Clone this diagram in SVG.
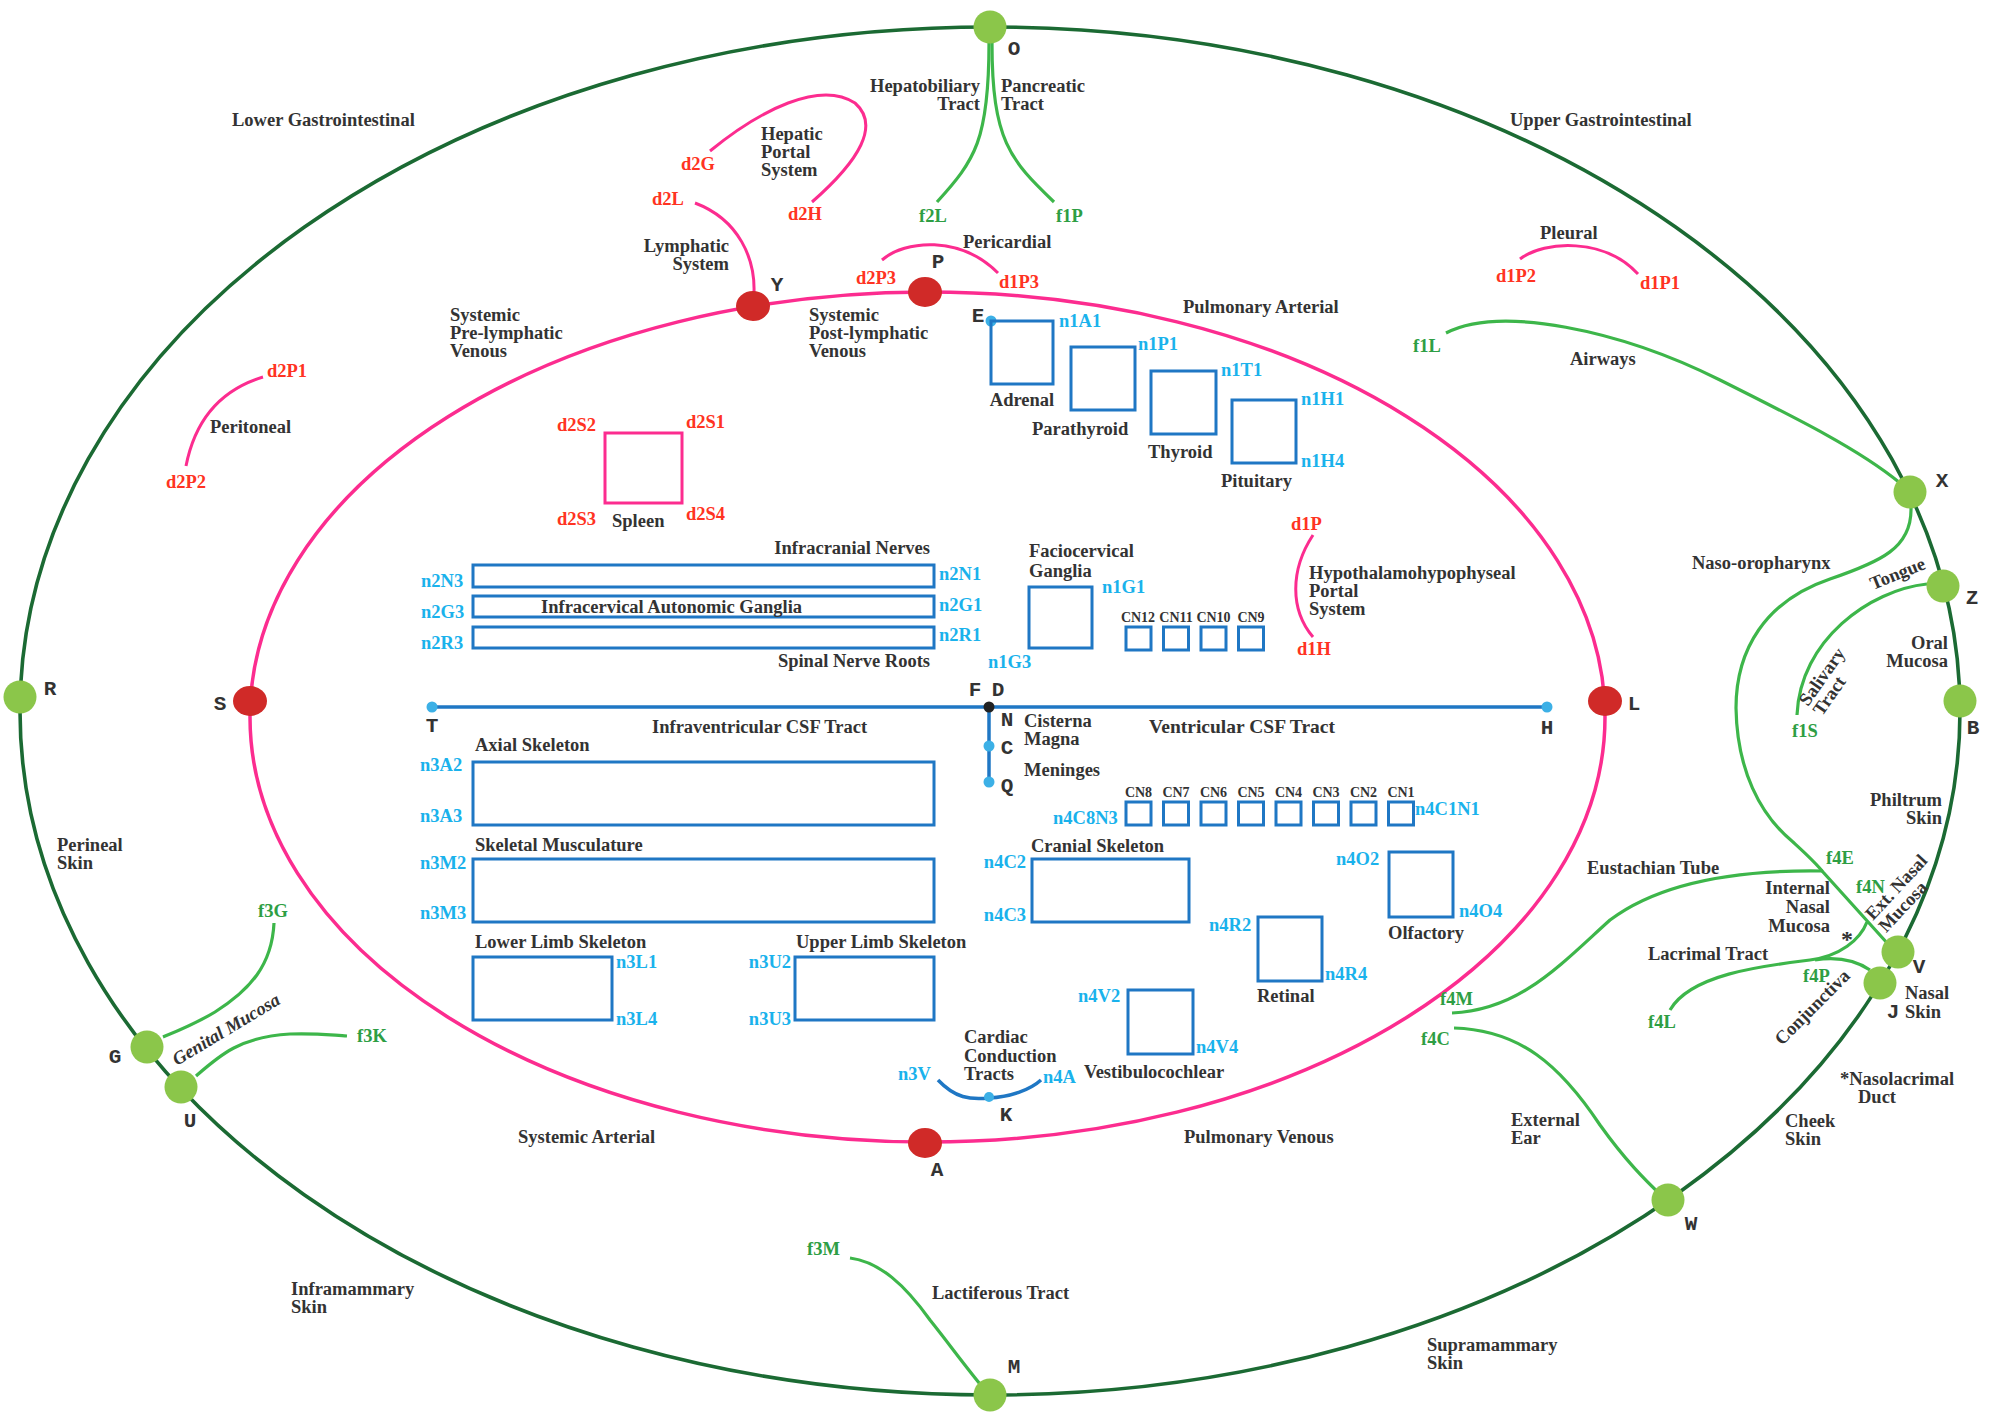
<svg xmlns="http://www.w3.org/2000/svg" width="2000" height="1414" viewBox="0 0 2000 1414">
<style>
.t{font-family:"Liberation Serif","Times New Roman",serif;font-weight:bold;font-size:18.5px;fill:#333}
.e{text-anchor:end}
.m{text-anchor:middle}
.k{font-family:"Liberation Mono","Courier New",monospace;font-weight:bold;font-size:21px;fill:#333;text-anchor:middle}
.r{fill:#ff3322}
.g{fill:#2e9e44}
.c{fill:#1ab2ec}
.cn{font-size:14px;text-anchor:middle}
.box{fill:none;stroke:#1f77c4;stroke-width:3}
.pk{fill:none;stroke:#fc2c8f;stroke-width:3.5}
.pt{fill:none;stroke:#fc2c8f;stroke-width:3}
.gl{fill:none;stroke:#3db64a;stroke-width:3.2}
.og{fill:none;stroke:#1b6a33;stroke-width:3.6}
.bl{fill:none;stroke:#1f77c4;stroke-width:3.5}
.gn{fill:#8bc64a}
.rn{fill:#d02a28}
.bd{fill:#3cb0e6}
</style>
<rect width="2000" height="1414" fill="#fff"/>

<g id="connectors">
<ellipse class="og" cx="990" cy="711" rx="970" ry="684"/>
<ellipse class="pk" cx="927.5" cy="717" rx="677.5" ry="425"/>
<path class="gl" d="M989 43 C989 140 975 160 937 202"/>
<path class="gl" d="M992 43 C992 140 1010 160 1054 202"/>
<path class="pt" d="M710 151 C760 110 820 80 855 103 C880 125 860 160 812 202"/>
<path class="pt" d="M695 203 C740 220 755 260 754 292"/>
<path class="pt" d="M882 260 C905 240 960 235 998 273"/>
<path class="pt" d="M263 377 C220 390 195 420 186 466"/>
<path class="pt" d="M1520 259 C1545 240 1605 238 1638 274"/>
<path class="pt" d="M1313 535 C1290 570 1290 610 1313 637"/>
<path class="bl" d="M432 707 L1547 707"/>
<path class="bl" d="M989 707 L989 782"/>
<path class="bl" d="M938 1080 C955 1098 970 1100 989 1098 C1010 1097 1030 1090 1041 1080"/>
<path class="gl" d="M1446 333 C1500 305 1620 330 1720 380 C1800 420 1860 450 1900 483"/>
<path class="gl" d="M1911 508 C1912 548 1880 562 1830 579 C1765 601 1736 650 1736 708 C1737 770 1760 815 1793 842 C1805 853 1815 862 1823 872 L1888 944"/>
<path class="gl" d="M1927 584 C1870 590 1800 640 1797 715"/>
<path class="gl" d="M1452 1013 C1520 1010 1560 965 1610 920 C1670 875 1760 870 1823 871"/>
<path class="gl" d="M1670 1010 C1690 975 1760 966 1810 960 C1840 956 1860 940 1867 922"/>
<path class="gl" d="M1815 960 C1840 956 1858 962 1870 970"/>
<path class="gl" d="M1454 1028 C1520 1030 1560 1065 1600 1125 C1625 1160 1645 1180 1664 1198"/>
<path class="gl" d="M274 923 C272 965 250 990 215 1012 C195 1024 180 1030 163 1037"/>
<path class="gl" d="M196 1076 C220 1055 240 1037 290 1034 C315 1033 330 1035 347 1036"/>
<path class="gl" d="M850 1258 C880 1262 905 1285 930 1320 C950 1345 968 1370 985 1390"/>
</g>

<g id="node-O"><circle class="gn" cx="990" cy="27" r="16.5"/><text class="k" x="1014" y="55">O</text></g>
<g id="node-X"><circle class="gn" cx="1910" cy="492" r="16.5"/><text class="k" x="1942" y="487">X</text></g>
<g id="node-Z"><circle class="gn" cx="1943" cy="586" r="16.5"/><text class="k" x="1972" y="604">Z</text></g>
<g id="node-B"><circle class="gn" cx="1960" cy="701" r="16.5"/><text class="k" x="1973" y="734">B</text></g>
<g id="node-V"><circle class="gn" cx="1898" cy="952" r="16.5"/><text class="k" x="1919" y="973">V</text></g>
<g id="node-J"><circle class="gn" cx="1880" cy="983" r="16.5"/><text class="k" x="1893" y="1018">J</text></g>
<g id="node-W"><circle class="gn" cx="1668" cy="1200" r="16.5"/><text class="k" x="1691" y="1230">W</text></g>
<g id="node-M"><circle class="gn" cx="990" cy="1395" r="16.5"/><text class="k" x="1014" y="1373">M</text></g>
<g id="node-U"><circle class="gn" cx="181" cy="1087" r="16.5"/><text class="k" x="190" y="1127">U</text></g>
<g id="node-G"><circle class="gn" cx="147" cy="1047" r="16.5"/><text class="k" x="115" y="1063">G</text></g>
<g id="node-R"><circle class="gn" cx="20" cy="697" r="16.5"/><text class="k" x="50" y="695">R</text></g>

<g id="node-P"><ellipse class="rn" cx="925" cy="292" rx="17" ry="15"/><text class="k" x="938" y="268">P</text></g>
<g id="node-Y"><ellipse class="rn" cx="753" cy="306" rx="17" ry="15"/><text class="k" x="777" y="291">Y</text></g>
<g id="node-S"><ellipse class="rn" cx="250" cy="701" rx="17" ry="15"/><text class="k" x="220" y="710">S</text></g>
<g id="node-L"><ellipse class="rn" cx="1605" cy="701" rx="17" ry="15"/><text class="k" x="1634" y="710">L</text></g>
<g id="node-A"><ellipse class="rn" cx="925" cy="1143" rx="17" ry="15"/><text class="k" x="937" y="1176">A</text></g>

<g id="node-T"><circle class="bd" cx="432" cy="707" r="5.5"/><text class="k" x="432" y="732">T</text></g>
<g id="node-H"><circle class="bd" cx="1547" cy="707" r="5.5"/><text class="k" x="1547" y="734">H</text></g>
<g id="node-FD"><circle fill="#222" cx="989" cy="707" r="5.5"/><text class="k" x="975" y="696">F</text><text class="k" x="998" y="696">D</text><text class="k" x="1007" y="726">N</text></g>
<g id="node-C"><circle class="bd" cx="989" cy="746" r="5.5"/><text class="k" x="1007" y="754">C</text></g>
<g id="node-Q"><circle class="bd" cx="989" cy="782" r="5.5"/><text class="k" x="1007" y="792">Q</text></g>
<g id="node-K"><circle class="bd" cx="989" cy="1097" r="5"/><text class="k" x="1006" y="1121">K</text></g>
<g id="node-E"><circle class="bd" cx="991" cy="321" r="5.5"/><text class="k" x="978" y="322">E</text></g>

<g id="labels">
<text class="t" x="232" y="126">Lower Gastrointestinal</text>
<text class="t" x="1510" y="126">Upper Gastrointestinal</text>
<text class="t e" x="980" y="92">Hepatobiliary</text>
<text class="t e" x="980" y="110">Tract</text>
<text class="t" x="1001" y="92">Pancreatic</text>
<text class="t" x="1001" y="110">Tract</text>
<text class="t g" x="919" y="222">f2L</text>
<text class="t g" x="1056" y="222">f1P</text>
<text class="t" x="761" y="140">Hepatic</text>
<text class="t" x="761" y="158">Portal</text>
<text class="t" x="761" y="176">System</text>
<text class="t r" x="681" y="170">d2G</text>
<text class="t r" x="788" y="220">d2H</text>
<text class="t r" x="652" y="205">d2L</text>
<text class="t e" x="729" y="252">Lymphatic</text>
<text class="t e" x="729" y="270">System</text>
<text class="t" x="963" y="248">Pericardial</text>
<text class="t r" x="856" y="284">d2P3</text>
<text class="t r" x="999" y="288">d1P3</text>
<text class="t" x="450" y="321">Systemic</text>
<text class="t" x="450" y="339">Pre-lymphatic</text>
<text class="t" x="450" y="357">Venous</text>
<text class="t" x="809" y="321">Systemic</text>
<text class="t" x="809" y="339">Post-lymphatic</text>
<text class="t" x="809" y="357">Venous</text>
<text class="t" x="1183" y="313">Pulmonary Arterial</text>
<text class="t" x="1540" y="239">Pleural</text>
<text class="t r" x="1496" y="282">d1P2</text>
<text class="t r" x="1640" y="289">d1P1</text>
<text class="t g" x="1413" y="352">f1L</text>
<text class="t" x="1570" y="365">Airways</text>
<text class="t r" x="267" y="377">d2P1</text>
<text class="t" x="210" y="433">Peritoneal</text>
<text class="t r" x="166" y="488">d2P2</text>
<text class="t" x="1692" y="569">Naso-oropharynx</text>
<text class="t" transform="translate(1873 590) rotate(-22)">Tongue</text>
<g transform="translate(1808 707) rotate(-55)"><text class="t" x="0" y="0">Salivary</text><text class="t" x="0" y="17">Tract</text></g>
<text class="t g" x="1792" y="737">f1S</text>
<text class="t e" x="1948" y="649">Oral</text>
<text class="t e" x="1948" y="667">Mucosa</text>
<text class="t e" x="1942" y="806">Philtrum</text>
<text class="t e" x="1942" y="824">Skin</text>
<text class="t" x="1587" y="874">Eustachian Tube</text>
<text class="t g" x="1826" y="864">f4E</text>
<text class="t g" x="1856" y="893">f4N</text>
<text class="t e" x="1830" y="894">Internal</text>
<text class="t e" x="1830" y="913">Nasal</text>
<text class="t e" x="1830" y="932">Mucosa</text>
<text class="t m" x="1847" y="947" style="font-size:24px">*</text>
<g transform="translate(1873 921) rotate(-47)"><text class="t" x="0" y="0">Ext. Nasal</text><text class="t" x="0" y="18">Mucosa</text></g>
<text class="t" x="1648" y="960">Lacrimal Tract</text>
<text class="t g" x="1648" y="1028">f4L</text>
<text class="t g" x="1803" y="982">f4P</text>
<text class="t" transform="translate(1782 1046) rotate(-45)">Conjunctiva</text>
<text class="t" x="1905" y="999">Nasal</text>
<text class="t" x="1905" y="1018">Skin</text>
<text class="t g" x="1440" y="1005">f4M</text>
<text class="t g" x="1421" y="1045">f4C</text>
<text class="t" x="1840" y="1085">*Nasolacrimal</text>
<text class="t" x="1858" y="1103">Duct</text>
<text class="t" x="1511" y="1126">External</text>
<text class="t" x="1511" y="1144">Ear</text>
<text class="t" x="1785" y="1127">Cheek</text>
<text class="t" x="1785" y="1145">Skin</text>
<text class="t" x="1427" y="1351">Supramammary</text>
<text class="t" x="1427" y="1369">Skin</text>
<text class="t" x="57" y="851">Perineal</text>
<text class="t" x="57" y="869">Skin</text>
<text class="t g" x="258" y="917">f3G</text>
<text class="t g" x="357" y="1042">f3K</text>
<text class="t" transform="translate(177 1066) rotate(-31)" style="font-style:italic">Genital Mucosa</text>
<text class="t" x="291" y="1295">Inframammary</text>
<text class="t" x="291" y="1313">Skin</text>
<text class="t g" x="807" y="1255">f3M</text>
<text class="t" x="932" y="1299">Lactiferous Tract</text>
<text class="t" x="518" y="1143">Systemic Arterial</text>
<text class="t" x="1184" y="1143">Pulmonary Venous</text>
<text class="t" x="652" y="733">Infraventricular CSF Tract</text>
<text class="t" x="1149" y="733" style="font-size:19.5px">Ventricular CSF Tract</text>
<text class="t" x="1024" y="727">Cisterna</text>
<text class="t" x="1024" y="745">Magna</text>
<text class="t" x="1024" y="776">Meninges</text>
<text class="t" x="1309" y="579">Hypothalamohypophyseal</text>
<text class="t" x="1309" y="597">Portal</text>
<text class="t" x="1309" y="615">System</text>
<text class="t r" x="1291" y="530">d1P</text>
<text class="t r" x="1297" y="655">d1H</text>
<text class="t" x="964" y="1043">Cardiac</text>
<text class="t" x="964" y="1062">Conduction</text>
<text class="t" x="964" y="1080">Tracts</text>
<text class="t c" x="898" y="1080">n3V</text>
<text class="t c" x="1043" y="1083">n4A</text>
</g>

<g id="box-spleen">
<rect x="605" y="433" width="77" height="70" fill="none" stroke="#fc2c8f" stroke-width="3"/>
<text class="t r" x="557" y="431">d2S2</text>
<text class="t r" x="686" y="428">d2S1</text>
<text class="t r" x="557" y="525">d2S3</text>
<text class="t r" x="686" y="520">d2S4</text>
<text class="t" x="612" y="527">Spleen</text>
</g>

<g id="box-adrenal"><rect class="box" x="991" y="321" width="62" height="63"/><text class="t c" x="1059" y="327">n1A1</text><text class="t m" x="1022" y="406">Adrenal</text></g>
<g id="box-parathyroid"><rect class="box" x="1071" y="347" width="64" height="63"/><text class="t c" x="1138" y="350">n1P1</text><text class="t" x="1032" y="435">Parathyroid</text></g>
<g id="box-thyroid"><rect class="box" x="1151" y="371" width="65" height="63"/><text class="t c" x="1221" y="376">n1T1</text><text class="t" x="1148" y="458">Thyroid</text></g>
<g id="box-pituitary"><rect class="box" x="1232" y="400" width="64" height="63"/><text class="t c" x="1301" y="405">n1H1</text><text class="t c" x="1301" y="467">n1H4</text><text class="t" x="1221" y="487">Pituitary</text></g>

<g id="box-nerves">
<text class="t e" x="930" y="554">Infracranial Nerves</text>
<rect class="box" x="473" y="565" width="461" height="22"/>
<rect class="box" x="473" y="596" width="461" height="21"/>
<rect class="box" x="473" y="627" width="461" height="21"/>
<text class="t c" x="421" y="587">n2N3</text>
<text class="t c" x="421" y="618">n2G3</text>
<text class="t c" x="421" y="649">n2R3</text>
<text class="t c" x="939" y="580">n2N1</text>
<text class="t c" x="939" y="611">n2G1</text>
<text class="t c" x="939" y="641">n2R1</text>
<text class="t" x="541" y="613">Infracervical Autonomic Ganglia</text>
<text class="t e" x="930" y="667">Spinal Nerve Roots</text>
</g>
<g id="box-faciocervical">
<text class="t" x="1029" y="557">Faciocervical</text>
<text class="t" x="1029" y="577">Ganglia</text>
<rect class="box" x="1029" y="587" width="63" height="61"/>
<text class="t c" x="1102" y="593">n1G1</text>
<text class="t c" x="988" y="668">n1G3</text>
</g>
<g id="box-cn-upper">
<rect class="box" x="1126" y="627" width="25" height="23"/>
<rect class="box" x="1163.5" y="627" width="25" height="23"/>
<rect class="box" x="1201" y="627" width="25" height="23"/>
<rect class="box" x="1238.5" y="627" width="25" height="23"/>
<text class="t cn" x="1138" y="622">CN12</text>
<text class="t cn" x="1176" y="622">CN11</text>
<text class="t cn" x="1213.5" y="622">CN10</text>
<text class="t cn" x="1251" y="622">CN9</text>
</g>
<g id="box-cn-lower">
<rect class="box" x="1126" y="802" width="25" height="23"/>
<rect class="box" x="1163.5" y="802" width="25" height="23"/>
<rect class="box" x="1201" y="802" width="25" height="23"/>
<rect class="box" x="1238.5" y="802" width="25" height="23"/>
<rect class="box" x="1276" y="802" width="25" height="23"/>
<rect class="box" x="1313.5" y="802" width="25" height="23"/>
<rect class="box" x="1351" y="802" width="25" height="23"/>
<rect class="box" x="1388.5" y="802" width="25" height="23"/>
<text class="t cn" x="1138.5" y="797">CN8</text>
<text class="t cn" x="1176" y="797">CN7</text>
<text class="t cn" x="1213.5" y="797">CN6</text>
<text class="t cn" x="1251" y="797">CN5</text>
<text class="t cn" x="1288.5" y="797">CN4</text>
<text class="t cn" x="1326" y="797">CN3</text>
<text class="t cn" x="1363.5" y="797">CN2</text>
<text class="t cn" x="1401" y="797">CN1</text>
<text class="t c" x="1053" y="824">n4C8N3</text>
<text class="t c" x="1415" y="815">n4C1N1</text>
</g>

<g id="box-cranial"><text class="t" x="1031" y="852">Cranial Skeleton</text><rect class="box" x="1032" y="859" width="157" height="63"/><text class="t c e" x="1026" y="868">n4C2</text><text class="t c e" x="1026" y="921">n4C3</text></g>
<g id="box-olfactory"><rect class="box" x="1389" y="852" width="64" height="65"/><text class="t c" x="1336" y="865">n4O2</text><text class="t c" x="1459" y="917">n4O4</text><text class="t" x="1388" y="939">Olfactory</text></g>
<g id="box-retinal"><rect class="box" x="1258" y="917" width="64" height="64"/><text class="t c" x="1209" y="931">n4R2</text><text class="t c" x="1325" y="980">n4R4</text><text class="t" x="1257" y="1002">Retinal</text></g>
<g id="box-vestibulocochlear"><rect class="box" x="1128" y="990" width="65" height="64"/><text class="t c" x="1078" y="1002">n4V2</text><text class="t c" x="1196" y="1053">n4V4</text><text class="t" x="1084" y="1078">Vestibulocochlear</text></g>

<g id="box-axial"><text class="t" x="475" y="751">Axial Skeleton</text><rect class="box" x="473" y="762" width="461" height="63"/><text class="t c" x="420" y="771">n3A2</text><text class="t c" x="420" y="822">n3A3</text></g>
<g id="box-muscle"><text class="t" x="475" y="851">Skeletal Musculature</text><rect class="box" x="473" y="859" width="461" height="63"/><text class="t c" x="420" y="869">n3M2</text><text class="t c" x="420" y="919">n3M3</text></g>
<g id="box-lowerlimb"><text class="t" x="475" y="948">Lower Limb Skeleton</text><rect class="box" x="473" y="957" width="139" height="63"/><text class="t c" x="616" y="968">n3L1</text><text class="t c" x="616" y="1025">n3L4</text></g>
<g id="box-upperlimb"><text class="t" x="796" y="948">Upper Limb Skeleton</text><rect class="box" x="795" y="957" width="139" height="63"/><text class="t c e" x="791" y="968">n3U2</text><text class="t c e" x="791" y="1025">n3U3</text></g>
</svg>
